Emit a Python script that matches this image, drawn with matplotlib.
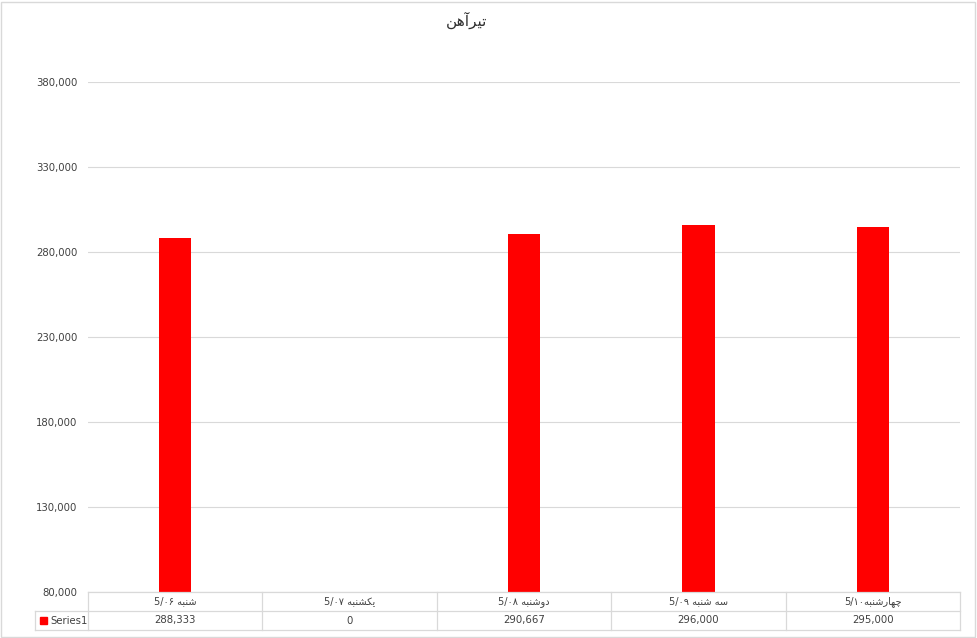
import matplotlib
matplotlib.use('Agg')
import matplotlib.pyplot as plt
from matplotlib.patches import Rectangle
import numpy as np

title = 'تیرآهن'
days = ['شنبه', 'یکشنبه', 'دوشنبه', 'سه شنبه', 'چهارشنبه']
dates = ['5/۰۶', '5/۰۷', '5/۰۸', '5/۰۹', '5/۱۰']
seps = [' ', ' ', ' ', ' ', '']
values = [288333, 0, 290667, 296000, 295000]
series_name = 'Series1'
yticks = [80000, 130000, 180000, 230000, 280000, 330000, 380000]

# presentation forms: isolated, final, initial, medial (right-joining letters only have 2)
FORMS = {
    'ت': (0xFE95, 0xFE96, 0xFE97, 0xFE98),
    'ی': (0xFBFC, 0xFBFD, 0xFBFE, 0xFBFF),
    'ر': (0xFEAD, 0xFEAE),
    'آ': (0xFE81, 0xFE82),
    'ه': (0xFEE9, 0xFEEA, 0xFEEB, 0xFEEC),
    'ن': (0xFEE5, 0xFEE6, 0xFEE7, 0xFEE8),
    'ش': (0xFEB5, 0xFEB6, 0xFEB7, 0xFEB8),
    'ب': (0xFE8F, 0xFE90, 0xFE91, 0xFE92),
    'ک': (0xFB8E, 0xFB8F, 0xFB90, 0xFB91),
    'د': (0xFEA9, 0xFEAA),
    'و': (0xFEED, 0xFEEE),
    'س': (0xFEB1, 0xFEB2, 0xFEB3, 0xFEB4),
    'چ': (0xFB7A, 0xFB7B, 0xFB7C, 0xFB7D),
    'ا': (0xFE8D, 0xFE8E),
}

def shape(word):
    '''join persian letters and put them in visual (left to right) order'''
    out = []
    for i, c in enumerate(word):
        if c not in FORMS:
            out.append(c)
            continue
        f = FORMS[c]
        prev = word[i-1] if i > 0 else ''
        nxt = word[i+1] if i < len(word)-1 else ''
        cp = prev in FORMS and len(FORMS[prev]) == 4
        cn = len(f) == 4 and nxt in FORMS
        if cp and cn:
            k = 3
        elif cp:
            k = 1
        elif cn:
            k = 2
        else:
            k = 0
        out.append(chr(f[k]))
    return ''.join(out[::-1])

W, H = 977, 638
fig = plt.figure(figsize=(W/100, H/100), dpi=100)
plt.rcParams['font.family'] = ['DejaVu Sans']
txt_col = '#404040'
grid_col = '#d9d9d9'

def px(x0, y0, x1, y1):
    return [x0/W, 1-y1/H, (x1-x0)/W, (y1-y0)/H]

# outer chart border
fig.add_artist(Rectangle((1/W, 1/H), (W-3)/W, (H-3)/H, transform=fig.transFigure,
                         fill=False, ec=grid_col, lw=1))

fig.text(467/W, 1-20/H, shape(title), ha='center', va='center', fontsize=11, color='#303030')

ax = fig.add_axes(px(88, 82, 960, 592))
x = np.arange(len(values))
ax.bar(x, values, width=0.185, color='#ff0000', zorder=3)
ax.set_xlim(-0.5, len(values)-0.5)
ax.set_ylim(yticks[0], yticks[-1])
ax.set_yticks(yticks)
ax.set_yticklabels(['{:,}'.format(v) for v in yticks])
ax.tick_params(axis='y', length=0, pad=7.5, labelsize=7.3, labelcolor=txt_col)
ax.set_xticks([])
ax.grid(axis='y', color=grid_col, lw=0.8, zorder=0)
for s in ax.spines.values():
    s.set_visible(False)

# data table under the plot
tb = fig.add_axes(px(35, 592, 960, 630))
lc = -0.5 - 53/174.4
tb.set_xlim(lc, len(values)-0.5)
tb.set_ylim(0, 2)
tb.axis('off')
lk = dict(color=grid_col, lw=0.9, clip_on=False)
tb.plot([-0.5, len(values)-0.5], [2, 2], **lk)
tb.plot([lc, len(values)-0.5], [1, 1], **lk)
tb.plot([lc, len(values)-0.5], [0, 0], **lk)
tb.plot([lc, lc], [0, 1], **lk)
for i in range(len(values)+1):
    tb.plot([i-0.5, i-0.5], [0, 2], **lk)
for i in range(len(values)):
    lab = dates[i] + seps[i] + shape(days[i])
    tb.text(i, 1.5, lab, ha='center', va='center', fontsize=7, color=txt_col)
    tb.text(i, 0.5, '{:,}'.format(values[i]), ha='center', va='center', fontsize=7.3, color=txt_col)
tb.add_patch(Rectangle((lc + 0.03, 0.33), 0.04, 0.36, color='#ff0000', clip_on=False))
tb.text(lc + 0.09, 0.5, series_name, ha='left', va='center', fontsize=7.3, color=txt_col)

fig.savefig('out.png', dpi=100)
